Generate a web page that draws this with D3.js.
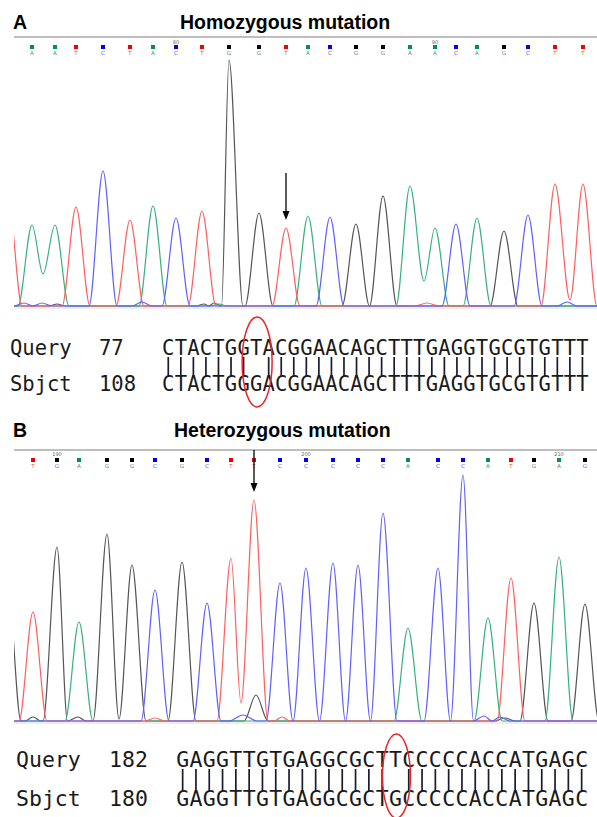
<!DOCTYPE html>
<html>
<head>
<meta charset="utf-8">
<script src="https://cdn.jsdelivr.net/npm/d3@7"></script>
<style>
  body { margin: 0; background: #fff; }
  svg { display: block; }
</style>
</head>
<body>
<svg id="fig"></svg>
<script>
// ---------- Panel A: homozygous ----------
const basesA = ['A','A','T','C','T','A','C','T','G','G','T','A','C','G','G','A','A','C','A','G','C','T','T'];
const scanA = [18, 41, 62, 89, 116, 139, 162, 188, 215, 245, 272, 294, 316, 342, 369, 396, 421, 442, 463, 490, 514, 541, 569];
const signalA = [810, 810, 990, 1350, 860, 1000, 880, 950, 2460, 930, 780, 900, 890, 820, 1100, 1200, 780, 820, 880, 750, 910, 1220, 1220];
const edgePeaksA = [['T', -6, 1090, 14]];
const minorA = [['C', 10, 30, 10], ['C', 28, 30, 10], ['G', 43, 20, 8], ['C', 128, 40, 10],
  ['G', 190, 20, 8], ['G', 200, 30, 8], ['A', 205, 20, 8], ['T', 413, 30, 12], ['C', 553, 40, 10]];
const valleysA = [['A', 29, 320], ['A', 410, 250], ['T', 556, 60]];
const queryA = 'CTACTGGTACGGAACAGCTTTGAGGTGCGTGTTT';
const sbjctA = 'CTACTGGGACGGAACAGCTTTGAGGTGCGTGTTT';

// ---------- Panel B: heterozygous ----------
const basesB = ['T','G','A','G','G','C','G','C','T','T','C','C','C','C','C','A','C','C','A','T','G','A','G'];
const scanB = [19, 43, 65, 93, 118, 141, 168, 193, 217, 240, 266, 292, 319, 344, 369, 394, 424, 449, 474, 497, 520, 545, 571];
const signalB = [1090, 1740, 990, 1870, 1560, 1310, 1590, 1180, 1630, 2210, 1380, 1530, 1580, 1560, 2080, 930, 1530, 2460, 1030, 1430, 1180, 1640, 1170];
const edgePeaksB = [['G', -7, 1460, 14]];
const minorB = [['G', 19, 40, 8], ['G', 64, 40, 8], ['T', 141, 30, 10], ['C', 229, 60, 14], ['G', 242, 260, 12],
  ['T', 268, 40, 8], ['C', 470, 50, 10], ['C', 486, 40, 10], ['G', 491, 30, 10]];
const valleysB = [['T', 227, 180], ['G', 105, 20]];
const queryB = 'GAGGTTGTGAGGCGCTTCCCCCACCATGAGC';
const sbjctB = 'GAGGTTGTGAGGCGCTGCCCCCACCATGAGC';

const W = 597, H = 817;
const traceColor = { A: '#35b27c', C: '#6060ff', G: '#555555', T: '#ff5f5f' };
const markColor = { A: '#00924a', C: '#0000f0', G: '#000000', T: '#f00000' };
const letterColor = { A: '#30a070', C: '#5050e0', G: '#777777', T: '#f05050' };

const svg = d3.select('#fig').attr('width', W).attr('height', H);
svg.append('rect').attr('width', W).attr('height', H).attr('fill', '#fff');

const panels = [
  {
    id: 'A', title: 'Homozygous mutation', titleX: 180, titleY: 29,
    bases: basesA, scan: scanA, signal: signalA, edge: edgePeaksA, minor: minorA, valleys: valleysA,
    firstNum: 74, arrowIdx: 10, arrowTop: 173,
    lineY: 37, numY: 43.5, markY: 45, letterY: 55, baseY: 306, topY: 60,
    query: queryA, sbjct: sbjctA, qStart: 77, sStart: 108,
    font: 20.5, seqX: 162, pitch: 12.55, labX: 10, numX: 99, qY: 355, sY: 391, ell: [362, 15, 45]
  },
  {
    id: 'B', title: 'Heterozygous mutation', titleX: 174, titleY: 437,
    bases: basesB, scan: scanB, signal: signalB, edge: edgePeaksB, minor: minorB, valleys: valleysB,
    firstNum: 189, arrowIdx: 9, arrowTop: 450,
    lineY: 450, numY: 456, markY: 458, letterY: 467.5, baseY: 721, topY: 475,
    query: queryB, sbjct: sbjctB, qStart: 182, sStart: 180,
    font: 21.5, seqX: 176, pitch: 13.3, labX: 16, numX: 109, qY: 767, sY: 806, ell: [776, 14, 42]
  }
];

// peak list -> control points along one channel trace
function buildPoints(peaks, valleys, lo, hi) {
  const pts = [[lo, 0]];
  peaks.forEach((p, i) => {
    const prev = peaks[i - 1];
    if (prev) {
      const v = valleys.find(d => d[1] > prev.pos && d[1] < p.pos);
      if (v) pts.push([v[1], v[2]]);
      else if (p.pos - prev.pos <= prev.w + p.w) pts.push([(prev.pos + p.pos) / 2, 0]);
      else pts.push([prev.pos + prev.w, 0], [p.pos - p.w, 0]);
    } else {
      pts.push([p.pos - p.w, 0]);
    }
    pts.push([p.pos, p.h]);
  });
  const last = peaks[peaks.length - 1];
  pts.push([last.pos + last.w, 0], [hi, 0]);
  return pts;
}

panels.forEach(P => {
  const g = svg.append('g');

  const x = d3.scaleLinear().domain([0, 583]).range([14, 597]);
  const y = d3.scaleLinear().domain([0, 2460]).range([P.baseY, P.topY]);

  // panel letter and title
  g.append('text').attr('x', 13).attr('y', P.titleY)
    .attr('font-family', 'Liberation Sans, Arial, sans-serif').attr('font-weight', 'bold')
    .attr('font-size', 19.5).text(P.id);
  g.append('text').attr('x', P.titleX).attr('y', P.titleY)
    .attr('font-family', 'Liberation Sans, Arial, sans-serif').attr('font-weight', 'bold')
    .attr('font-size', 19.5).text(P.title);

  // top rule
  g.append('line').attr('x1', 14).attr('x2', W).attr('y1', P.lineY).attr('y2', P.lineY)
    .attr('stroke', '#a8a8a8').attr('stroke-width', 1.5);

  // base calls
  const calls = P.bases.map((b, i) => ({ b, pos: P.scan[i], num: P.firstNum + i }));
  g.selectAll('rect.mark').data(calls).enter().append('rect')
    .attr('class', 'mark')
    .attr('x', d => x(d.pos) - 2).attr('y', P.markY).attr('width', 4).attr('height', 4)
    .attr('fill', d => markColor[d.b]);
  g.selectAll('text.call').data(calls).enter().append('text')
    .attr('class', 'call')
    .attr('x', d => x(d.pos)).attr('y', P.letterY).attr('text-anchor', 'middle')
    .attr('font-family', 'DejaVu Sans, sans-serif').attr('font-size', 5.5)
    .attr('fill', d => letterColor[d.b]).text(d => d.b);
  g.selectAll('text.num').data(calls.filter(d => d.num % 10 === 0)).enter().append('text')
    .attr('class', 'num')
    .attr('x', d => x(d.pos)).attr('y', P.numY).attr('text-anchor', 'middle')
    .attr('font-family', 'DejaVu Sans, sans-serif').attr('font-size', 5)
    .attr('fill', '#666').text(d => d.num);

  // plot area
  const clipId = 'clip' + P.id;
  svg.append('clipPath').attr('id', clipId).append('rect')
    .attr('x', 14).attr('y', P.topY - 5).attr('width', W - 14).attr('height', P.baseY - P.topY + 10);

  g.append('line').attr('x1', 14).attr('x2', W).attr('y1', P.baseY + 2).attr('y2', P.baseY + 2)
    .attr('stroke', '#dcdcdc').attr('stroke-width', 1);

  const line = d3.line().x(d => x(d[0])).y(d => y(d[1])).curve(d3.curveMonotoneX);
  const traces = g.append('g').attr('clip-path', `url(#${clipId})`);
  ['G', 'A', 'T', 'C'].forEach(base => {
    const peaks = []
      .concat(calls.filter(d => d.b === base).map(d => ({ pos: d.pos, h: P.signal[P.scan.indexOf(d.pos)], w: 14 })))
      .concat(P.edge.filter(d => d[0] === base).map(d => ({ pos: d[1], h: d[2], w: d[3] })))
      .concat(P.minor.filter(d => d[0] === base).map(d => ({ pos: d[1], h: d[2], w: d[3] })))
      .sort((a, b) => a.pos - b.pos);
    const valleys = P.valleys.filter(d => d[0] === base);
    traces.append('path')
      .attr('d', line(buildPoints(peaks, valleys, -40, 640)))
      .attr('fill', 'none').attr('stroke', traceColor[base])
      .attr('stroke-width', 1.2).attr('stroke-linejoin', 'round');
  });

  // arrow at the mutated base
  const ax = x(P.scan[P.arrowIdx]);
  const tip = y(P.signal[P.arrowIdx]) - 8;
  g.append('line').attr('x1', ax).attr('x2', ax).attr('y1', P.arrowTop).attr('y2', tip - 4)
    .attr('stroke', '#000').attr('stroke-width', 1.3);
  g.append('path').attr('d', `M${ax - 3.5},${tip - 9}L${ax + 3.5},${tip - 9}L${ax},${tip}Z`).attr('fill', '#000');

  // alignment rows
  const mono = 'DejaVu Sans Mono, Liberation Mono, monospace';
  const n = P.query.length;
  const sx = d3.scaleBand().domain(d3.range(n)).range([P.seqX, P.seqX + n * P.pitch]);
  [['Query', P.qStart, P.query, P.qY], ['Sbjct', P.sStart, P.sbjct, P.sY]].forEach(([lab, num, seq, yy]) => {
    g.append('text').attr('x', P.labX).attr('y', yy).attr('font-family', mono)
      .attr('font-size', P.font).attr('fill', '#1a1a1a').text(lab);
    g.append('text').attr('x', P.numX).attr('y', yy).attr('font-family', mono)
      .attr('font-size', P.font).attr('fill', '#1a1a1a').text(num);
    g.selectAll(null).data(seq.split('')).enter().append('text')
      .attr('x', (d, i) => sx(i) + sx.bandwidth() / 2).attr('y', yy)
      .attr('text-anchor', 'middle').attr('font-family', mono)
      .attr('font-size', P.font).attr('fill', '#1a1a1a').text(d => d);
  });
  const matches = d3.range(n).filter(i => P.query[i] === P.sbjct[i]);
  g.selectAll(null).data(matches).enter().append('line')
    .attr('x1', i => sx(i) + sx.bandwidth() / 2).attr('x2', i => sx(i) + sx.bandwidth() / 2)
    .attr('y1', P.qY + 2).attr('y2', P.sY - 15)
    .attr('stroke', '#1a1a33').attr('stroke-width', 1.7);

  const mis = d3.range(n).find(i => P.query[i] !== P.sbjct[i]);
  g.append('ellipse').attr('cx', sx(mis) + sx.bandwidth() / 2 + 1).attr('cy', P.ell[0])
    .attr('rx', P.ell[1]).attr('ry', P.ell[2])
    .attr('fill', 'none').attr('stroke', '#e8262a').attr('stroke-width', 1.5);
});
</script>
</body>
</html>
